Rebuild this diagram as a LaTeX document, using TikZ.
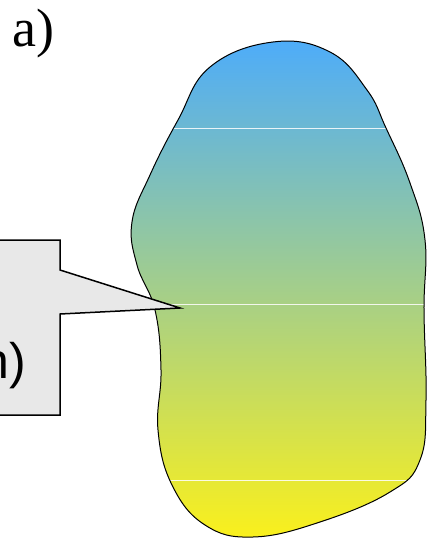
\documentclass[tikz,border=0pt]{standalone}
\usepackage{fontspec}
\setmainfont{Liberation Serif}
\newfontfamily\calloutfont{Liberation Sans}
\definecolor{blobtop}{RGB}{77,172,250}
\definecolor{blobmid}{RGB}{166,212,168}
\definecolor{blobbot}{RGB}{250,240,28}
\definecolor{callgray}{RGB}{232,232,232}
\tikzset{
  blobline/.style={draw=black, line width=1pt},
  seam/.style={draw=white, line width=0.8pt, opacity=0.85},
  callbox/.style={draw=black, fill=callgray, line width=1.5pt, line join=miter},
}
\begin{document}
\begin{tikzpicture}[x=1pt,y=-1pt]
\useasboundingbox[fill=white] (0,0) rectangle (430,538);
\def\blobpath{plot[smooth cycle, tension=0.7] coordinates{
 (273,42) (330,52) (367,90) (386,128) (410,183)
 (425,240) (424,310) (426,400) (420,460)
 (390,492) (320,522) (253,537) (205,525) (172,485)
 (158,430) (161,370) (155,310) (137,265) (132,222)
 (150,175) (178,120) (210,67)}}
\shade[top color=blobtop, middle color=blobmid, bottom color=blobbot] \blobpath;
\begin{scope}
 \clip \blobpath;
 \draw[seam] (100,128) -- (440,128);
 \draw[seam] (100,304) -- (440,304);
 \draw[seam] (100,480) -- (440,480);
\end{scope}
\draw[blobline] \blobpath;
\draw[callbox] (-10,240) -- (60,240) -- (60,270) -- (180,308) -- (60,314) -- (60,415) -- (-10,415) -- cycle;
\node[anchor=base east, inner sep=0pt, font=\calloutfont\fontsize{50}{60}\selectfont] (ntext) at (26,378) {n)};
\node[anchor=base west, inner sep=0pt, font=\fontsize{54}{64}\selectfont] (atext) at (12,46) {a)};
\end{tikzpicture}
\end{document}
